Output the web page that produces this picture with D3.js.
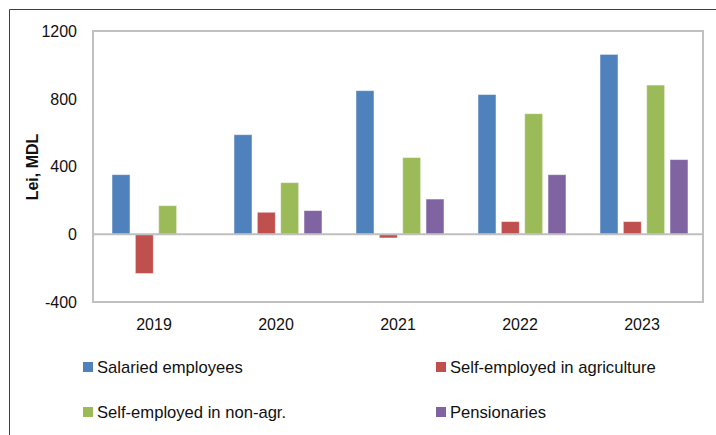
<!DOCTYPE html>
<html>
<head>
<meta charset="utf-8">
<script src="https://cdn.jsdelivr.net/npm/d3@7"></script>
<style>
  body { margin: 0; background: #fff; }
  svg { display: block; font-family: "Liberation Sans", Arial, sans-serif; }
</style>
</head>
<body>
<svg id="chart" width="716" height="435"></svg>
<script>
// chart data
const years = ["2019", "2020", "2021", "2022", "2023"];
const seriesNames = ["Salaried employees", "Self-employed in agriculture", "Self-employed in non-agr.", "Pensionaries"];
const salaried = [352, 588, 848, 825, 1062];
const selfAgri = [-232, 130, -22, 75, 75];
const selfNonAgri = [169, 305, 453, 712, 881];
const pensionaries = [null, 140, 208, 352, 441];
const yTicks = [-400, 0, 400, 800, 1200];

const colors = ["#4F81BD", "#C0504D", "#9BBB59", "#8064A2"];
const seriesValues = [salaried, selfAgri, selfNonAgri, pensionaries];

const svg = d3.select("#chart");
const W = 716, H = 435;
const plot = { left: 93, top: 31, right: 703, bottom: 302 };

// outer frame (only top and left edges visible in the crop)
svg.append("line").attr("x1", 9.5).attr("y1", 9.5).attr("x2", W).attr("y2", 9.5)
  .attr("stroke", "#404040").attr("stroke-width", 1);
svg.append("line").attr("x1", 9.5).attr("y1", 9.5).attr("x2", 9.5).attr("y2", H)
  .attr("stroke", "#404040").attr("stroke-width", 1);

const x0 = d3.scaleBand().domain(years).range([plot.left, plot.right]).paddingInner(0).paddingOuter(0);
const x1 = d3.scaleBand().domain(d3.range(4)).range([19, 19 + 88]).paddingInner(5 / 22).paddingOuter(0);
const y = d3.scaleLinear().domain([-400, 1200]).range([plot.bottom, plot.top]);

// plot area border
svg.append("rect")
  .attr("x", plot.left).attr("y", plot.top)
  .attr("width", plot.right - plot.left).attr("height", plot.bottom - plot.top)
  .attr("fill", "none").attr("stroke", "#C0C0C0").attr("stroke-width", 2);

// bars
const rows = [];
years.forEach((yr, i) => {
  seriesValues.forEach((vals, s) => {
    if (vals[i] !== null) rows.push({ year: yr, s: s, v: vals[i] });
  });
});

svg.append("g").selectAll("rect")
  .data(rows)
  .join("rect")
  .attr("x", d => x0(d.year) + x1(d.s))
  .attr("width", x1.bandwidth())
  .attr("y", d => y(Math.max(0, d.v)))
  .attr("height", d => Math.abs(y(d.v) - y(0)))
  .attr("fill", d => colors[d.s])
  .attr("stroke", "#fff")
  .attr("stroke-opacity", 0.5)
  .attr("stroke-width", 1);

// zero line
svg.append("line")
  .attr("x1", plot.left).attr("x2", plot.right)
  .attr("y1", y(0)).attr("y2", y(0))
  .attr("stroke", "#BFBFBF").attr("stroke-width", 2);

// y axis labels
svg.append("g").selectAll("text")
  .data(yTicks)
  .join("text")
  .attr("x", 77)
  .attr("y", d => y(d))
  .attr("dy", "0.36em")
  .attr("text-anchor", "end")
  .attr("font-size", 16)
  .attr("fill", "#111")
  .text(d => d);

// x axis labels
svg.append("g").selectAll("text")
  .data(years)
  .join("text")
  .attr("x", d => x0(d) + x0.bandwidth() / 2)
  .attr("y", 329.5)
  .attr("text-anchor", "middle")
  .attr("font-size", 16)
  .attr("fill", "#111")
  .text(d => d);

// y axis title
svg.append("text")
  .attr("transform", "translate(38,167) rotate(-90)")
  .attr("text-anchor", "middle")
  .attr("font-size", 16)
  .attr("font-weight", "bold")
  .attr("fill", "#111")
  .text("Lei, MDL");

// legend
const legendPos = [[83, 362], [436, 362], [83, 407], [436, 407]];
const legend = svg.append("g").selectAll("g")
  .data(seriesNames)
  .join("g")
  .attr("transform", (d, i) => `translate(${legendPos[i][0]},${legendPos[i][1]})`);

legend.append("rect")
  .attr("width", 10).attr("height", 10)
  .attr("fill", (d, i) => colors[i]);

legend.append("text")
  .attr("x", 14)
  .attr("y", 10.5)
  .attr("font-size", 16.6)
  .attr("fill", "#111")
  .text(d => d);
</script>
</body>
</html>
